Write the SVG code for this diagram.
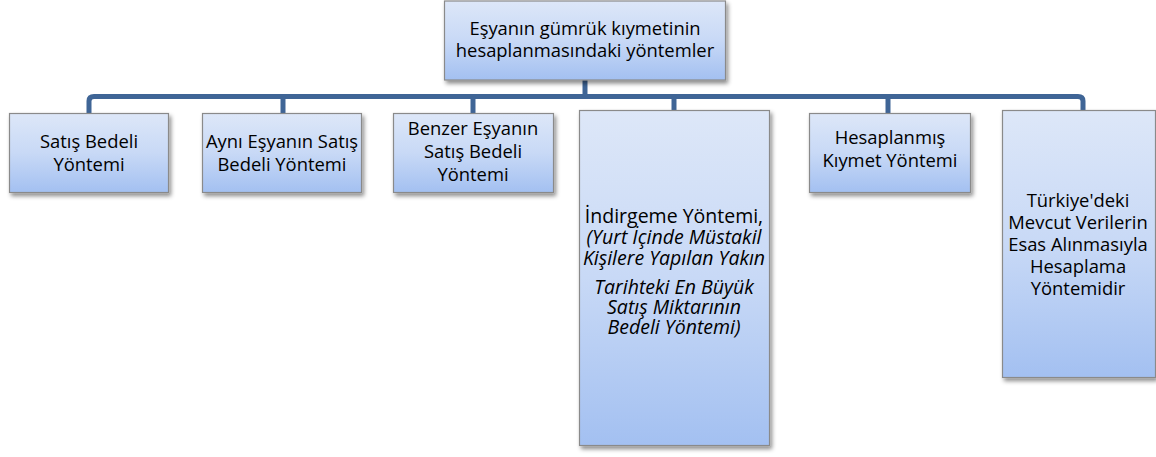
<svg xmlns="http://www.w3.org/2000/svg" width="1156" height="457" viewBox="0 0 1156 457">
<defs>
<linearGradient id="g" x1="0" y1="0" x2="0" y2="1">
<stop offset="0" stop-color="#dde7f8"/>
<stop offset="0.5" stop-color="#c8d9f6"/>
<stop offset="1" stop-color="#a3c0f1"/>
</linearGradient>
<filter id="sh" x="-10%" y="-10%" width="125%" height="125%">
<feDropShadow dx="2" dy="3" stdDeviation="2" flood-color="#000" flood-opacity="0.45"/>
</filter>
</defs>
<style>
.box{fill:url(#g);stroke:#8a8a8a;stroke-width:1.2;filter:url(#sh)}
.t{font-family:"Open Sans","Noto Sans",sans-serif;font-size:18.4px;fill:#000;text-anchor:middle}
.b{font-size:19.5px}
.i{font-style:italic}
.c{fill:none;stroke:#3f6596;stroke-width:5;stroke-linejoin:round;stroke-linecap:butt}
</style>
<rect width="1156" height="457" fill="#fff"/>
<g id="connectors">
<path class="c" d="M89 113 V101 Q89 96.5 94 96.5 H1078 Q1083 96.5 1083 101 V110"/>
<path class="c" d="M585 80 V96.5"/>
<path class="c" d="M283 96.5 V113"/>
<path class="c" d="M473 96.5 V113"/>
<path class="c" d="M674 96.5 V110"/>
<path class="c" d="M888 96.5 V113"/>
</g>
<g id="root">
<rect class="box" x="444.5" y="1" width="281" height="79"/>
<text class="t" x="585" y="35">Eşyanın gümrük kıymetinin</text>
<text class="t" x="585" y="57">hesaplanmasındaki yöntemler</text>
</g>
<g id="n1">
<rect class="box" x="9.5" y="113.5" width="159" height="79"/>
<text class="t" x="89" y="148">Satış Bedeli</text>
<text class="t" x="89" y="171">Yöntemi</text>
</g>
<g id="n2">
<rect class="box" x="202.5" y="113.5" width="159" height="79"/>
<text class="t" x="282" y="148">Aynı Eşyanın Satış</text>
<text class="t" x="282" y="171">Bedeli Yöntemi</text>
</g>
<g id="n3">
<rect class="box" x="393.5" y="113.5" width="160" height="79"/>
<text class="t" x="473" y="135">Benzer Eşyanın</text>
<text class="t" x="473" y="158">Satış Bedeli</text>
<text class="t" x="473" y="181">Yöntemi</text>
</g>
<g id="n4">
<rect class="box" x="579.5" y="110.5" width="190" height="335"/>
<text class="t b" x="674" y="223">İndirgeme Yöntemi,</text>
<text class="t b i" x="674" y="244">(Yurt İçinde Müstakil</text>
<text class="t b i" x="674" y="265">Kişilere Yapılan Yakın</text>
<text class="t b i" x="674" y="294">Tarihteki En Büyük</text>
<text class="t b i" x="674" y="314">Satış Miktarının</text>
<text class="t b i" x="674" y="334">Bedeli Yöntemi)</text>
</g>
<g id="n5">
<rect class="box" x="809.5" y="113.5" width="161" height="79"/>
<text class="t" x="890" y="144">Hesaplanmış</text>
<text class="t" x="890" y="167">Kıymet Yöntemi</text>
</g>
<g id="n6">
<rect class="box" x="1002.5" y="110.5" width="153" height="267"/>
<text class="t" x="1078" y="207">Türkiye'deki</text>
<text class="t" x="1078" y="229">Mevcut Verilerin</text>
<text class="t" x="1078" y="251">Esas Alınmasıyla</text>
<text class="t" x="1078" y="273">Hesaplama</text>
<text class="t" x="1078" y="295">Yöntemidir</text>
</g>
</svg>
